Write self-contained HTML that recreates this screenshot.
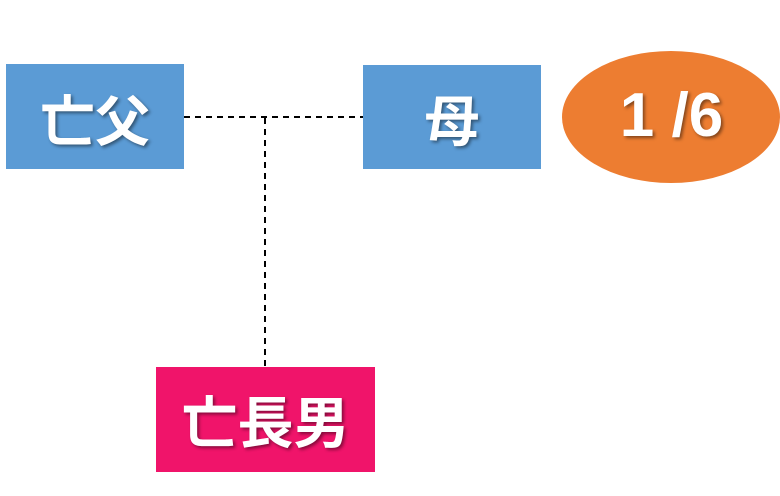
<!DOCTYPE html>
<html><head><meta charset="utf-8"><style>
body{margin:0;width:780px;height:496px;background:#fff;position:relative;overflow:hidden;font-family:"Liberation Sans","Noto Sans CJK JP",sans-serif}
.b{position:absolute;display:flex;align-items:center;justify-content:center;color:#fff;font-weight:bold;font-size:55px;text-shadow:2px 2px 3px rgba(0,0,0,.45)}
</style></head><body>
<svg width="780" height="496" style="position:absolute;left:0;top:0">
<line x1="184" y1="117" x2="363" y2="117" stroke="#000" stroke-width="2" stroke-dasharray="6,5"/>
<line x1="265" y1="118" x2="265" y2="367" stroke="#000" stroke-width="2" stroke-dasharray="6,5"/>
<ellipse cx="671" cy="117" rx="109" ry="66" fill="#ed7d31"/>
</svg>
<div class="b" style="left:6px;top:62px;width:178px;height:105px;background:#5b9bd5;background-clip:content-box;padding-top:2px;height:105px">亡父</div>
<div class="b" style="left:363px;top:65px;width:178px;height:104px;background:#5b9bd5">母</div>
<div class="b" style="left:563px;top:50px;width:217px;height:131px;font-size:62px">1 /6</div>
<div class="b" style="left:156px;top:367px;width:219px;height:105px;background:#f0146a;font-size:56px">亡長男</div>
</body></html>
